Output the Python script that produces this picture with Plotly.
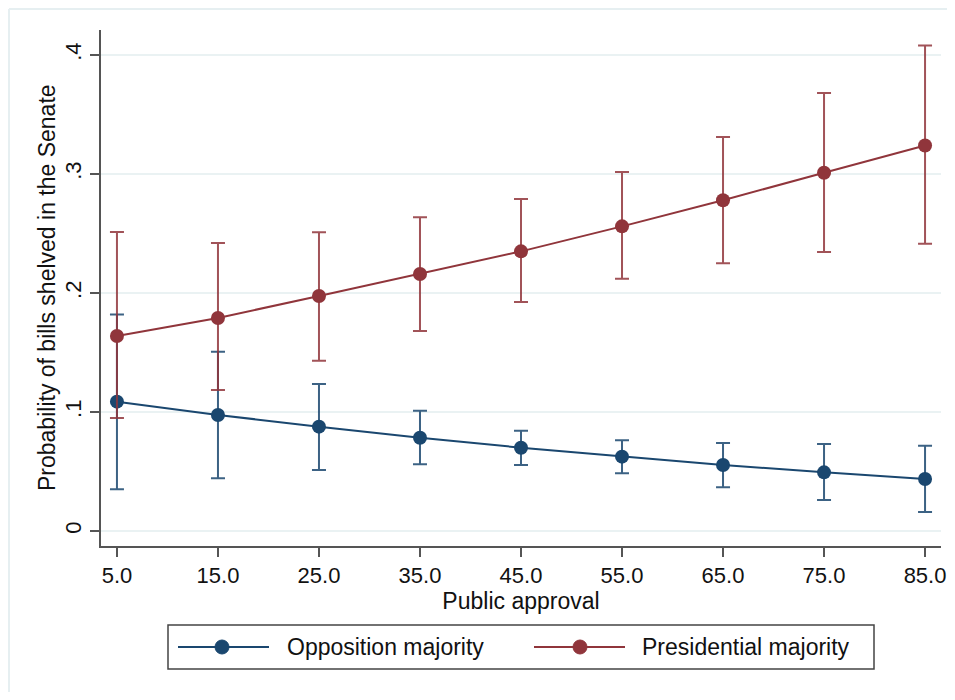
import plotly.graph_objects as go

approval = [5, 15, 25, 35, 45, 55, 65, 75, 85]
x_tick_labels = ["5.0", "15.0", "25.0", "35.0", "45.0", "55.0", "65.0", "75.0", "85.0"]

opp_est = [0.1087, 0.0975, 0.0877, 0.0784, 0.0700, 0.0625, 0.0555, 0.0493, 0.0437]
opp_hi = [0.1820, 0.1507, 0.1235, 0.1010, 0.0843, 0.0762, 0.0740, 0.0731, 0.0717]
opp_lo = [0.0350, 0.0443, 0.0513, 0.0560, 0.0555, 0.0485, 0.0367, 0.0260, 0.0160]

pres_est = [0.1639, 0.1790, 0.1975, 0.2160, 0.2350, 0.2560, 0.2780, 0.3010, 0.3240]
pres_hi = [0.2513, 0.2420, 0.2510, 0.2636, 0.2790, 0.3017, 0.3310, 0.3680, 0.4080]
pres_lo = [0.0950, 0.1185, 0.1430, 0.1680, 0.1924, 0.2120, 0.2250, 0.2345, 0.2414]

y_ticks = [0, 0.1, 0.2, 0.3, 0.4]
y_tick_labels = ["0", ".1", ".2", ".3", ".4"]

series_names = ["Opposition majority", "Presidential majority"]
x_title = "Public approval"
y_title = "Probability of bills shelved in the Senate"

BLUE = "#1a476f"
RED = "#90353b"

fig = go.Figure()

def add_series(name, est, hi, lo, color, errcolor):
    fig.add_trace(go.Scatter(
        x=approval, y=est, name=name, mode="lines+markers",
        line=dict(color=color, width=2),
        marker=dict(color=color, size=14),
        error_y=dict(type="data", symmetric=False,
                     array=[h - e for h, e in zip(hi, est)],
                     arrayminus=[e - l for e, l in zip(est, lo)],
                     color=errcolor, thickness=2, width=7),
        showlegend=False,
    ))

add_series(series_names[0], opp_est, opp_hi, opp_lo, BLUE, "rgba(26,71,111,0.85)")
add_series(series_names[1], pres_est, pres_hi, pres_lo, RED, "rgba(144,53,59,0.85)")

# page is offset by the 8px body margin
OFF = 8
W, H = 955 - 2 * OFF, 700 - 2 * OFF
L, T = 101 - OFF, 30 - OFF
R = W - (941 - OFF)
B = H - (546 - OFF)
pw, ph = W - L - R, H - T - B

def px_x(p):
    return (p - OFF - L) / pw

def px_y(p):
    return (H - B - (p - OFF)) / ph

FONT = "Liberation Sans, Arial, sans-serif"

shapes = [
    dict(type="line", xref="paper", yref="paper",
         x0=px_x(9), x1=px_x(9), y0=px_y(9), y1=px_y(700),
         line=dict(color="#e6eff1", width=2)),
    dict(type="line", xref="paper", yref="paper",
         x0=px_x(9), x1=px_x(955), y0=px_y(9), y1=px_y(9),
         line=dict(color="#e6eff1", width=2)),
    # legend box
    dict(type="rect", xref="paper", yref="paper",
         x0=px_x(168), x1=px_x(874), y0=px_y(625), y1=px_y(669),
         line=dict(color="#444", width=1.5), fillcolor="white"),
]
annotations = [
    dict(xref="paper", yref="paper", x=px_x(47), y=px_y(288),
         xanchor="center", yanchor="middle", showarrow=False, textangle=-90,
         text=y_title, font=dict(size=23, color="#111", family=FONT)),
]
leg_items = [(178, 269, 222, 285, BLUE, series_names[0]),
             (534, 625, 580, 640, RED, series_names[1])]
ly = 647
for x0, x1, xm, xt, col, name in leg_items:
    shapes.append(dict(type="line", xref="paper", yref="paper",
                       x0=px_x(x0), x1=px_x(x1), y0=px_y(ly), y1=px_y(ly),
                       line=dict(color=col, width=2)))
    shapes.append(dict(type="circle", xref="paper", yref="paper",
                       xsizemode="pixel", ysizemode="pixel",
                       xanchor=px_x(xm), yanchor=px_y(ly),
                       x0=-7, x1=7, y0=-7, y1=7,
                       line=dict(color=col, width=1), fillcolor=col))
    annotations.append(dict(xref="paper", yref="paper", x=px_x(xt), y=px_y(ly),
                            xanchor="left", yanchor="middle", showarrow=False,
                            text=name, font=dict(size=23, color="#111", family=FONT)))

fig.update_layout(
    width=W, height=H,
    margin=dict(l=L, r=R, t=T, b=B),
    paper_bgcolor="white", plot_bgcolor="white",
    font=dict(family=FONT, color="#111", size=22),
    showlegend=False,
    xaxis=dict(
        range=[3.42, 86.58], tickvals=approval, ticktext=x_tick_labels,
        showgrid=False, zeroline=False,
        showline=True, linecolor="#555", linewidth=1.5,
        ticks="outside", ticklen=9, tickcolor="#555", tickwidth=1.5,
        tickfont=dict(size=22),
        title=dict(text=x_title, font=dict(size=23), standoff=0),
        automargin=False,
    ),
    yaxis=dict(
        range=[-0.0126, 0.421], tickvals=y_ticks, ticktext=y_tick_labels,
        tickangle=-90,
        showgrid=True, gridcolor="#eaf2f3", gridwidth=1.5,
        zeroline=False,
        showline=True, linecolor="#555", linewidth=1.5,
        ticks="outside", ticklen=9, tickcolor="#555", tickwidth=1.5,
        tickfont=dict(size=22),
        automargin=False,
    ),
    shapes=shapes,
    annotations=annotations,
)

fig.write_html("out.html")
